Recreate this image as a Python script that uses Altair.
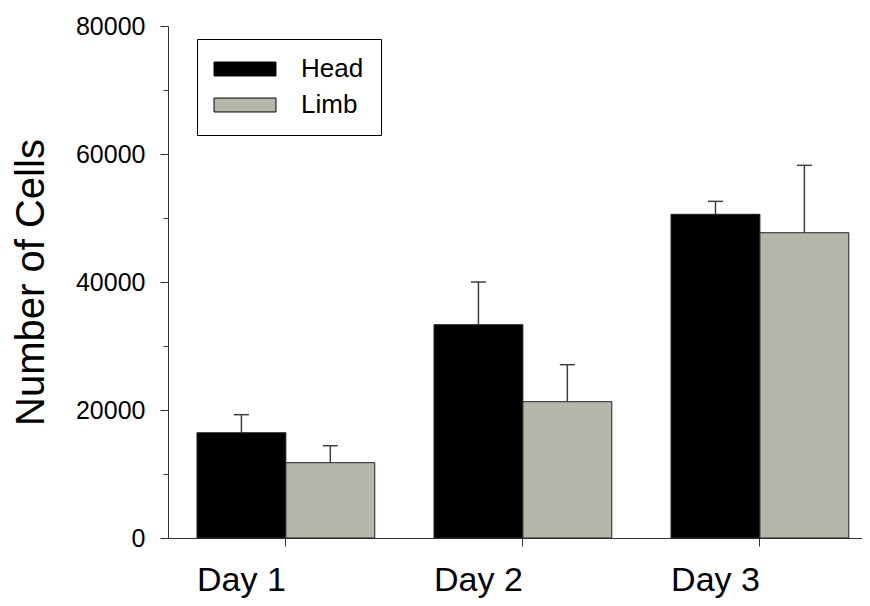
import altair as alt
import pandas as pd

days = ["Day 1", "Day 2", "Day 3"]
series = ["Head", "Limb"]
head_mean = [16450, 33330, 50580]
head_err = [2820, 6670, 2020]
limb_mean = [11770, 21300, 47700]
limb_err = [2650, 5780, 10530]
y_ticks = [0, 10000, 20000, 30000, 40000, 50000, 60000, 70000, 80000]
colors = ["#000000", "#b6b6aa"]

rows = []
for i, d in enumerate(days):
    rows.append({"Day": d, "Tissue": "Head", "Mean": head_mean[i], "Upper": head_mean[i] + head_err[i]})
    rows.append({"Day": d, "Tissue": "Limb", "Mean": limb_mean[i], "Upper": limb_mean[i] + limb_err[i]})
df = pd.DataFrame(rows)

FONT = "Liberation Sans"

x_enc = alt.X(
    "Day:N",
    sort=days,
    scale=alt.Scale(paddingInner=0.25, paddingOuter=0.089, align=0.687),
    axis=alt.Axis(
        title=None, labelAngle=0, labelFontSize=34, labelFont=FONT, labelColor="black",
        labelBaseline="alphabetic", labelPadding=44, tickSize=8, tickColor="#333333",
        domainColor="#333333", tickWidth=1, domainWidth=1,
    ),
)
xoff = alt.XOffset("Tissue:N", sort=series, scale=alt.Scale(paddingInner=0, paddingOuter=0))
y_scale = alt.Scale(domain=[0, 80000], nice=False, zero=True)

bars = alt.Chart(df).mark_bar(stroke="#222222", strokeWidth=1).encode(
    x=x_enc,
    xOffset=xoff,
    y=alt.Y(
        "Mean:Q",
        scale=y_scale,
        axis=alt.Axis(
            values=y_ticks, format="d",
            labelExpr="datum.value % 20000 === 0 ? datum.label : ''",
            tickSize={"condition": {"test": "datum.value % 20000 === 0", "value": 8}, "value": 5},
            labelFontSize=25, labelFont=FONT, labelColor="black", labelPadding=15,
            tickColor="#333333", domainColor="#333333", tickWidth=1, domainWidth=1,
            grid=False,
            title="Number of Cells", titleFontSize=40, titleFont=FONT, titleFontWeight="normal",
            titleColor="black", titleX=-125, titleY=256, titleAngle=270, titleAlign="center",
            titleBaseline="alphabetic",
        ),
    ),
    color=alt.Color(
        "Tissue:N",
        sort=series,
        scale=alt.Scale(domain=series, range=colors),
        legend=alt.Legend(
            orient="none", legendX=29, legendY=13, title=None,
            strokeColor="black", fillColor="white", padding=17,
            symbolType="M-4,-0.9H4V0.9H-4Z", symbolSize=240, symbolOffset=18,
            symbolStrokeColor="black", symbolStrokeWidth=1, symbolOpacity=1,
            labelFontSize=26, labelFont=FONT, labelColor="black", labelOffset=43,
            rowPadding=10,
        ),
    ),
)

err = alt.Chart(df).mark_rule(color="#404040", strokeWidth=1.5).encode(
    x=alt.X("Day:N", sort=days),
    xOffset=xoff,
    y=alt.Y("Mean:Q", scale=y_scale),
    y2="Upper:Q",
)

caps = alt.Chart(df).mark_tick(color="#404040", size=15, thickness=1.5, opacity=1).encode(
    x=alt.X("Day:N", sort=days),
    xOffset=xoff,
    y=alt.Y("Upper:Q", scale=y_scale),
)

chart = alt.layer(err, caps, bars).properties(
    width=694, height=512,
    padding={"left": 160, "top": 18, "right": 0, "bottom": 60},
    autosize=alt.AutoSizeParams(type="none"),
).configure_view(stroke=None)

chart.save("out.html", embed_options={"renderer": "svg", "actions": False})
